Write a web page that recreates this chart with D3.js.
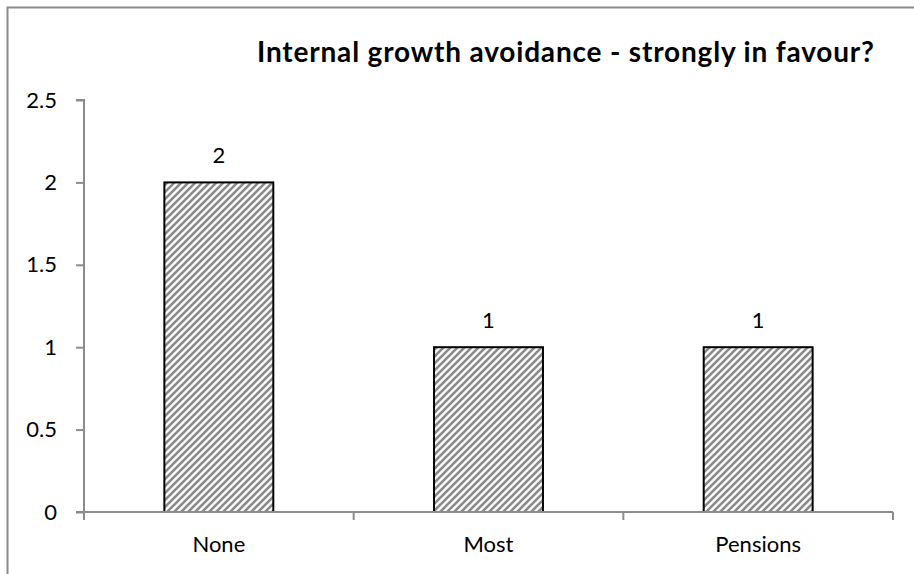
<!DOCTYPE html>
<html><head><meta charset="utf-8">
<script src="https://cdn.jsdelivr.net/npm/d3@7"></script>
<style>body{margin:0;background:#fff}svg{display:block}text{font-family:Lato,"Open Sans",sans-serif}</style>
</head><body><svg id="c" width="914" height="574"></svg>
<script>
const categories = ["None", "Most", "Pensions"];
const values = [2, 1, 1];
const yTicks = [0, 0.5, 1, 1.5, 2, 2.5];
const title = "Internal growth avoidance - strongly in favour?";

const svg = d3.select("#c");
const W = 914, H = 574;
const m = {left: 84, right: 21, top: 100, bottom: 62};
const x = d3.scaleBand().domain(categories).range([m.left, W - m.right]).paddingInner(0.596).paddingOuter(0.298);
const y = d3.scaleLinear().domain([0, 2.5]).range([H - m.bottom, m.top]);

// outer border
svg.append("rect").attr("x", 7.5).attr("y", 7.5).attr("width", W + 10).attr("height", H + 10)
  .attr("fill", "none").attr("stroke", "#8c8c8c").attr("stroke-width", 2);

// hatch pattern
const defs = svg.append("defs");
const P = 7;
const pat = defs.append("pattern").attr("id", "hatch").attr("patternUnits", "userSpaceOnUse")
  .attr("width", P).attr("height", P);
pat.append("rect").attr("width", P).attr("height", P).attr("fill", "#fafafa");
pat.append("path").attr("d", `M-1,1 L1,-1 M0,${P} L${P},0 M${P-1},${P+1} L${P+1},${P-1}`)
  .attr("stroke", "#8a8a8a").attr("stroke-width", 2.6);

// bars
svg.selectAll(".bar").data(values).join("rect")
  .attr("x", (d, i) => x(categories[i]))
  .attr("y", d => y(d))
  .attr("width", x.bandwidth())
  .attr("height", d => y(0) - y(d))
  .attr("fill", "url(#hatch)").attr("stroke", "#000").attr("stroke-width", 2);

// y axis
const ya = svg.append("g").attr("transform", `translate(${m.left},0)`)
  .call(d3.axisLeft(y).tickValues(yTicks).tickSize(8).tickPadding(19).tickFormat(d3.format("")));
ya.select(".domain").attr("stroke", "#8c8c8c").attr("stroke-width", 2).attr("d", `M-8,${y(2.5)}H0V${y(0)}`);
ya.selectAll(".tick line").attr("stroke", "#8c8c8c").attr("stroke-width", 2);
ya.selectAll(".tick text").attr("font-size", 22).attr("fill", "#000").style("font-family", "Lato,sans-serif");

// x axis
const xa = svg.append("g").attr("transform", `translate(0,${y(0)})`)
  .call(d3.axisBottom(x).tickSize(0).tickPadding(24));
xa.select(".domain").attr("stroke", "#8c8c8c").attr("stroke-width", 2).attr("d", `M${m.left - 8},0H${W - m.right}`);
xa.selectAll(".tick text").attr("font-size", 22).attr("fill", "#000").style("font-family", "Lato,sans-serif");
const step = x.step();
const bounds = categories.map((c, i) => x(c) - x.paddingOuter() * step).concat([W - m.right]);
xa.selectAll(".sep").data(bounds).join("line")
  .attr("x1", d => d).attr("x2", d => d).attr("y1", 0).attr("y2", 8)
  .attr("stroke", "#8c8c8c").attr("stroke-width", 2);

// value labels
svg.selectAll(".vl").data(values).join("text")
  .attr("x", (d, i) => x(categories[i]) + x.bandwidth() / 2)
  .attr("y", d => y(d) - 19)
  .attr("text-anchor", "middle").attr("font-size", 22).text(d => d);

// title
svg.append("text").attr("x", 565.5).attr("y", 62).attr("text-anchor", "middle")
  .attr("font-size", 28).attr("font-weight", "bold")
  .attr("textLength", 617).attr("lengthAdjust", "spacing").text(title);
</script></body></html>
